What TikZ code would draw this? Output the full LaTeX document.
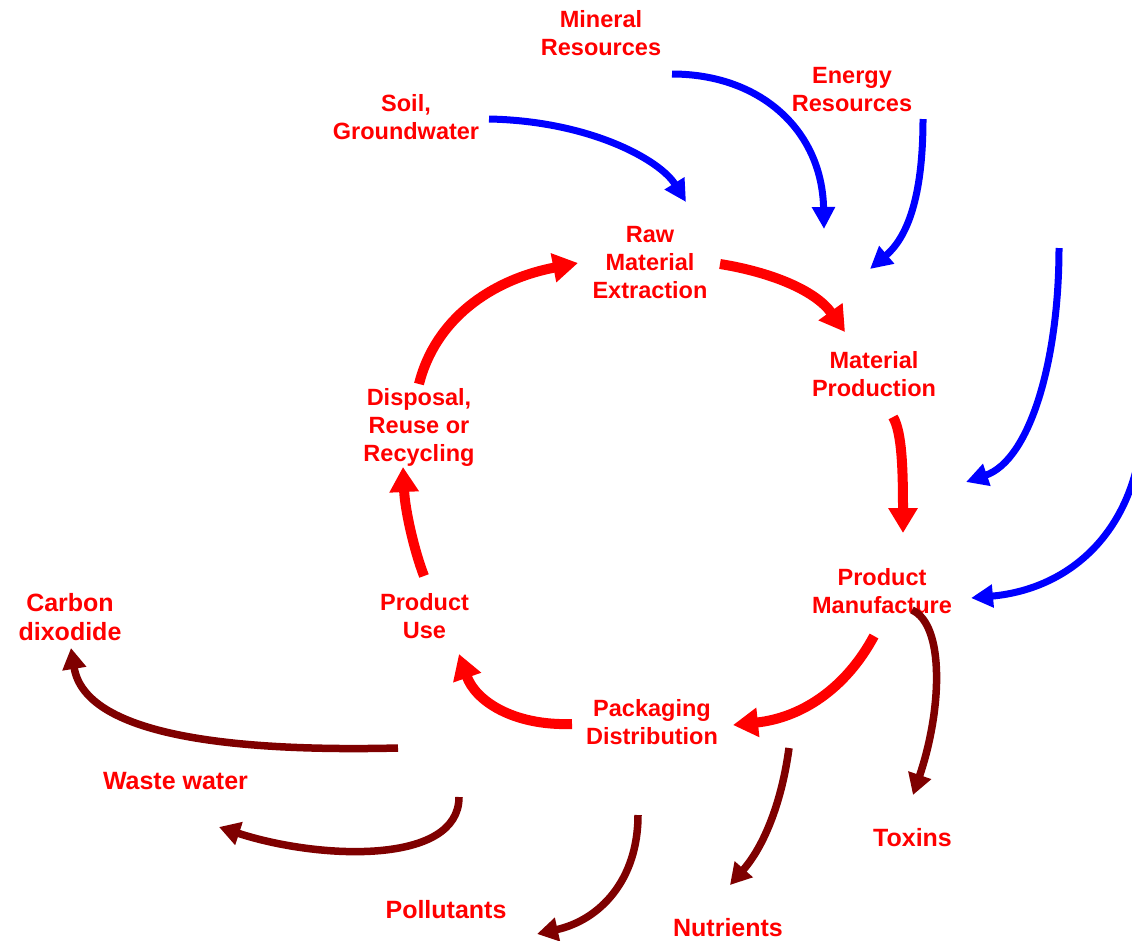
\documentclass[tikz,border=0pt]{standalone}
\usepackage{fontspec}
\setmainfont{Liberation Sans}
\usetikzlibrary{arrows.meta}
\definecolor{flowred}{HTML}{FF0000}
\definecolor{flowblue}{HTML}{0000FF}
\definecolor{flowmaroon}{HTML}{7F0000}
\begin{document}
\begin{tikzpicture}[x=1pt,y=-1pt,
  stage/.style={text=flowred, font=\fontsize{23.5}{28}\selectfont\bfseries, align=center, inner sep=0pt},
  output/.style={text=flowred, font=\fontsize{25}{29}\selectfont\bfseries, align=center, inner sep=0pt},
  cyclearrow/.style={draw=flowred, line width=10pt, -{Triangle[length=25pt,width=28pt]}},
  inputarrow/.style={draw=flowblue, line width=7pt, -{Triangle[length=22pt,width=22pt]}},
  outputarrow/.style={draw=flowmaroon, line width=7.5pt, -{Triangle[length=21pt,width=23pt]}}]
\useasboundingbox (0,0) rectangle (1132,940);

% life-cycle stages
\node[stage] (raw)  at (650,262.5) {Raw\\Material\\Extraction};
\node[stage] (mat)  at (874,374)   {Material\\Production};
\node[stage] (man)  at (882,591.5) {Product\\Manufacture};
\node[stage] (pack) at (652,722.5) {Packaging\\Distribution};
\node[stage] (use)  at (424.5,616.5) {Product\\Use};
\node[stage] (disp) at (419,427)   {Disposal,\\Reuse or\\Recycling};

% resources
\node[stage] (mineral) at (601,33.5) {Mineral\\Resources};
\node[stage] (energy)  at (852,90)   {Energy\\Resources};
\node[stage] (soil)    at (406,117.5) {Soil,\\Groundwater};

% releases
\node[output] (co2)   at (70,617)    {Carbon\\dixodide};
\node[output] (waste) at (175.5,781.5) {Waste water};
\node[output] (poll)  at (446,910)   {Pollutants};
\node[output] (nutr)  at (728,928)   {Nutrients};
\node[output] (tox)   at (912.5,838) {Toxins};

% arrow end points
\coordinate (c1s) at (720,264);  \coordinate (c1e) at (845,332);
\coordinate (c2s) at (893,417);  \coordinate (c2e) at (903,533);
\coordinate (c3s) at (874,636);  \coordinate (c3e) at (733,725);
\coordinate (c4s) at (572,724);  \coordinate (c4e) at (459,654);
\coordinate (c5s) at (424,576);  \coordinate (c5e) at (403,467);
\coordinate (c6s) at (419,384);  \coordinate (c6e) at (578,263);

\coordinate (b1s) at (489,119);  \coordinate (b1e) at (686,202);
\coordinate (b2s) at (672,74);   \coordinate (b2e) at (824,229);
\coordinate (b3s) at (923,119);  \coordinate (b3e) at (870,269);
\coordinate (b4s) at (1059,248); \coordinate (b4e) at (966,482);
\coordinate (b5s) at (1138,462); \coordinate (b5e) at (971,598);

\coordinate (m1s) at (398,748);  \coordinate (m1e) at (71,648);
\coordinate (m2s) at (459,797);  \coordinate (m2e) at (219,827);
\coordinate (m3s) at (638,815);  \coordinate (m3e) at (537,934);
\coordinate (m4s) at (789,748);  \coordinate (m4e) at (730,885);
\coordinate (m5s) at (912,610);  \coordinate (m5e) at (913,795);

% the cycle
\draw[cyclearrow] (c1s) .. controls (770,272) and (815,290) .. (c1e);
\draw[cyclearrow] (c2s) .. controls (902,432) and (903,470) .. (c2e);
\draw[cyclearrow] (c3s) .. controls (845,690) and (800,718) .. (c3e);
\draw[cyclearrow] (c4s) .. controls (512,726) and (475,700) .. (c4e);
\draw[cyclearrow] (c5s) .. controls (414,550) and (405,510) .. (c5e);
\draw[cyclearrow] (c6s) .. controls (435,320) and (490,280) .. (c6e);

% resource inputs
\draw[inputarrow] (b1s) .. controls (590,121) and (660,160) .. (b1e);
\draw[inputarrow] (b2s) .. controls (760,74) and (822,130) .. (b2e);
\draw[inputarrow] (b3s) .. controls (923,190) and (910,235) .. (b3e);
\draw[inputarrow] (b4s) .. controls (1059,360) and (1030,460) .. (b4e);
\draw[inputarrow] (b5s) .. controls (1120,545) and (1060,590) .. (b5e);

% releases to the environment
\draw[outputarrow] (m1s) .. controls (230,752) and (85,735) .. (m1e);
\draw[outputarrow] (m2s) .. controls (459,865) and (320,860) .. (m2e);
\draw[outputarrow] (m3s) .. controls (638,880) and (600,920) .. (m3e);
\draw[outputarrow] (m4s) .. controls (782,800) and (765,845) .. (m4e);
\draw[outputarrow] (m5s) .. controls (945,625) and (942,710) .. (m5e);
\end{tikzpicture}
\end{document}
